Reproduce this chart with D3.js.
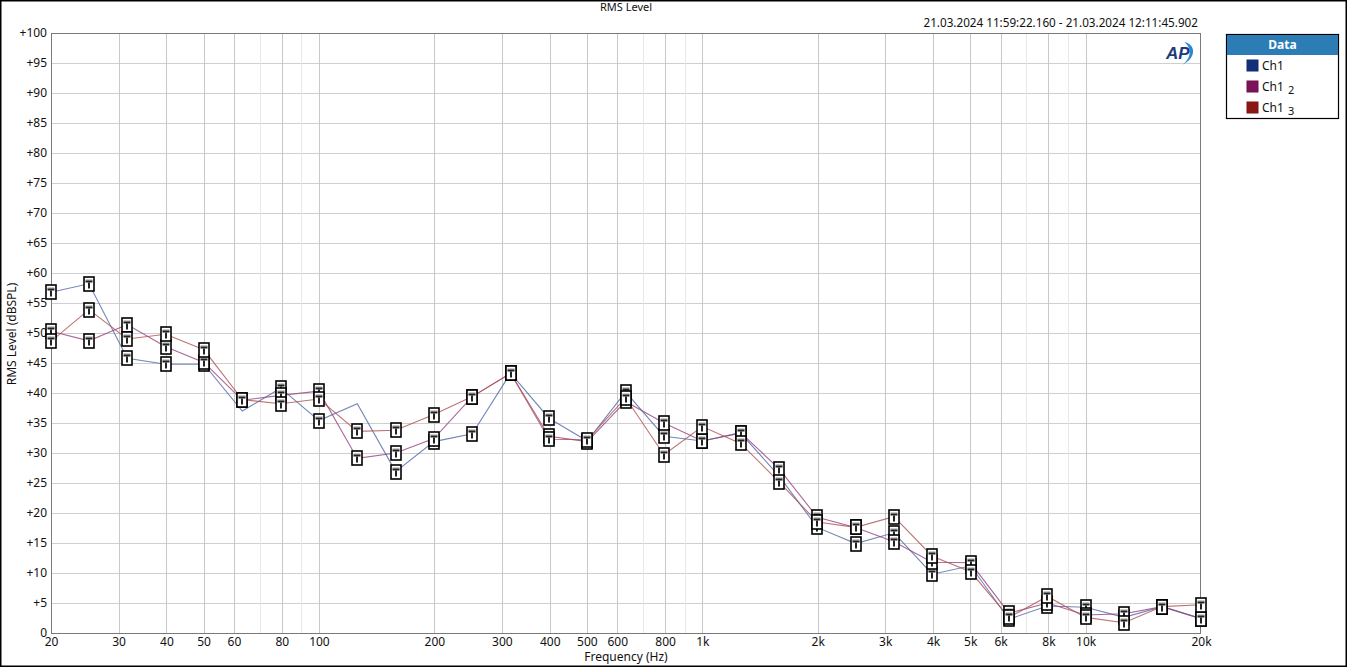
<!DOCTYPE html>
<html>
<head>
<meta charset="utf-8">
<script src="https://cdn.jsdelivr.net/npm/d3@7"></script>
<style>
  html, body { margin: 0; padding: 0; background: #fff; }
  svg { display: block; font-family: "Segoe UI", "Noto Sans", "Open Sans", sans-serif; }
</style>
</head>
<body>
<svg id="chart" width="1347" height="667"></svg>
<script>
// ---------------- data ----------------
const freqs = [20,25.12,31.62,39.81,50.12,63.10,79.43,100,125.9,158.5,199.5,251.2,316.2,398.1,501.2,631.0,794.3,1000,1259,1585,1995,2512,3162,3981,5012,6310,7943,10000,12589,15849,20000];
const ch1   = [56.8,58.2,45.8,44.8,44.8,37.0,40.8,35.4,38.2,26.9,31.9,33.2,43.3,35.8,32.0,40.2,32.8,32.0,33.3,26.2,17.6,14.9,16.7,9.8,11.2,2.3,4.5,4.3,2.6,4.4,2.4];
const ch1_2 = [50.3,48.7,51.4,47.7,45.1,38.8,39.6,40.3,29.1,30.0,32.4,39.4,43.3,32.8,31.9,38.6,35.0,32.0,33.4,27.4,19.3,17.6,15.2,11.8,11.7,3.3,5.0,3.0,3.2,4.4,2.4];
const ch1_3 = [48.6,53.9,49.0,49.8,47.2,38.9,38.2,39.0,33.6,33.8,36.4,39.4,43.3,32.3,32.2,39.2,29.7,34.4,31.6,25.2,18.5,17.6,19.4,12.8,10.2,2.6,6.1,2.6,1.7,4.4,4.7];
const ch1UnmarkedIdx = [5,8,19];   // Ch1 points drawn without a marker
const seriesNames = ["Ch1","Ch1","Ch1"];
const seriesSubs  = ["","2","3"];
const xMajorTicks = [20,30,40,50,60,80,100,200,300,400,500,600,800,1000,2000,3000,4000,5000,6000,8000,10000,20000];
const xMajorLabels = ["20","30","40","50","60","80","100","200","300","400","500","600","800","1k","2k","3k","4k","5k","6k","8k","10k","20k"];
const xMinorTicks = [70,90,700,900,7000,9000];
const yTicks = d3.range(0,101,5);
const titleText = "RMS Level";
const timeText = "21.03.2024 11:59:22.160 - 21.03.2024 12:11:45.902";
const xTitle = "Frequency (Hz)";
const yTitle = "RMS Level (dBSPL)";

// ---------------- layout ----------------
const svg = d3.select("#chart");
const W = 1347, H = 667;
const L = 51, R = 1201, T = 33, B = 633;
const x = d3.scaleLog().domain([20,20000]).range([L,R]);
const y = d3.scaleLinear().domain([0,100]).range([B,T]);

const lineColors = ["#4f68a4","#94407e","#ae5050"];
const legendColors = ["#12307a","#7c1258","#8a1616"];

// outer frame
svg.append("rect").attr("x",0.75).attr("y",0.75).attr("width",W-1.5).attr("height",H-1.5)
  .attr("fill","#fff").attr("stroke","#000").attr("stroke-width",1.5);

// grid
const g = svg.append("g");
g.selectAll(".ygrid").data(yTicks.filter(v=>v>0 && v<100)).enter().append("line")
  .attr("x1",L).attr("x2",R).attr("y1",d=>Math.round(y(d))+0.5).attr("y2",d=>Math.round(y(d))+0.5)
  .attr("stroke","#cfcfcf").attr("stroke-width",1);
g.selectAll(".xminor").data(xMinorTicks).enter().append("line")
  .attr("y1",T).attr("y2",B).attr("x1",d=>Math.round(x(d))+0.5).attr("x2",d=>Math.round(x(d))+0.5)
  .attr("stroke","#e8e8e8").attr("stroke-width",1);
g.selectAll(".xmajor").data(xMajorTicks.filter(v=>v>20 && v<20000)).enter().append("line")
  .attr("y1",T).attr("y2",B).attr("x1",d=>Math.round(x(d))+0.5).attr("x2",d=>Math.round(x(d))+0.5)
  .attr("stroke","#c8c8c8").attr("stroke-width",1);

// plot border
svg.append("rect").attr("x",L+0.5).attr("y",T+0.5).attr("width",R-L-1).attr("height",B-T)
  .attr("fill","none").attr("stroke","#7a7a7a").attr("stroke-width",1);

// axes (labels)
const yAxis = d3.axisLeft(y).tickValues(yTicks).tickSize(0).tickPadding(4)
  .tickFormat(d => d===0 ? "0" : "+"+d);
const ya = svg.append("g").attr("transform",`translate(${L},0)`).call(yAxis);
ya.select(".domain").remove();
ya.selectAll("text").attr("font-size","12px").attr("fill","#111").attr("font-family","\"Segoe UI\", \"Noto Sans\", sans-serif");

const xAxis = d3.axisBottom(x).tickValues(xMajorTicks).tickSize(0).tickPadding(4)
  .tickFormat((d,i) => xMajorLabels[i]);
const xa = svg.append("g").attr("transform",`translate(0,${B})`).call(xAxis);
xa.select(".domain").remove();
xa.selectAll("text").attr("font-size","12px").attr("fill","#111").attr("font-family","\"Segoe UI\", \"Noto Sans\", sans-serif");

// titles
svg.append("text").attr("x",626).attr("y",11).attr("text-anchor","middle")
  .attr("font-size","11px").attr("fill","#111").text(titleText);
svg.append("text").attr("x",1198).attr("y",27).attr("text-anchor","end")
  .attr("font-size","11.7px").attr("fill","#111").text(timeText);
svg.append("text").attr("x",626).attr("y",661).attr("text-anchor","middle")
  .attr("font-size","12px").attr("fill","#111").text(xTitle);
svg.append("text").attr("transform","translate(16,334) rotate(-90)").attr("text-anchor","middle")
  .attr("font-size","12px").attr("fill","#111").text(yTitle);

// AP logo
const logo = svg.append("g").attr("transform","translate(1166,44)");
logo.append("text").attr("x",0).attr("y",15).attr("font-size","17px").attr("font-weight","bold")
  .attr("font-style","italic").attr("fill","#1b3c78").attr("font-family","\"Liberation Sans\", Arial, sans-serif").text("AP");
logo.append("path").attr("d","M18,-2 C30,0 31,14 16,21 C26,14 26,3 18,-2 Z").attr("fill","#2b86d6");

// lines + markers
const series = [ch1, ch1_2, ch1_3];
const line = d3.line().x(d=>x(d.f)).y(d=>y(d.v));
const plot = svg.append("g");
series.forEach((vals,si) => {
  const pts = freqs.map((f,i)=>({f, v: vals[i]}));
  plot.append("path").datum(pts).attr("d",line).attr("fill","none")
    .attr("stroke",lineColors[si]).attr("stroke-width",1.1).attr("stroke-opacity",0.8);
});
const mk = svg.append("g");
series.forEach((vals,si) => {
  const pts = freqs.map((f,i)=>({f, v: vals[i], i}))
    .filter(d => !(si===0 && ch1UnmarkedIdx.includes(d.i)));
  const m = mk.selectAll(null).data(pts).enter().append("g")
    .attr("transform", d=>`translate(${Math.round(x(d.f))},${Math.round(y(d.v))})`);
  m.append("rect").attr("x",-5).attr("y",-7).attr("width",10).attr("height",14)
    .attr("fill","#fff").attr("stroke","#000").attr("stroke-width",1.6);
  m.append("rect").attr("x",-3.5).attr("y",-4.5).attr("width",7).attr("height",1).attr("fill","#999");
  m.append("rect").attr("x",-3.5).attr("y",-3.5).attr("width",7).attr("height",2).attr("fill","#222");
  m.append("rect").attr("x",-1).attr("y",-1.5).attr("width",2).attr("height",6).attr("fill","#222");
});

// legend
const lg = svg.append("g").attr("transform","translate(1226,34)");
lg.append("rect").attr("x",0.5).attr("y",0.5).attr("width",112).attr("height",84)
  .attr("fill","#fff").attr("stroke","#000").attr("stroke-width",1.2);
lg.append("rect").attr("x",1).attr("y",1).attr("width",111).attr("height",20).attr("fill","#2c7db6");
lg.append("text").attr("x",56.5).attr("y",15).attr("text-anchor","middle").attr("fill","#fff")
  .attr("font-size","12px").attr("font-weight","bold").text("Data");
seriesNames.forEach((n,i) => {
  const yy = 32 + i*21;
  lg.append("rect").attr("x",21).attr("y",yy-6).attr("width",11).attr("height",11)
    .attr("fill",legendColors[i]).attr("stroke",d3.color(legendColors[i]).darker(0.3)).attr("stroke-width",1);
  const t = lg.append("text").attr("x",36).attr("y",yy+4).attr("font-size","12px").attr("fill","#111").text(n);
  if (seriesSubs[i]) t.append("tspan").attr("dx",4).attr("dy",3).attr("font-size","11px").text(seriesSubs[i]);
});
</script>
</body>
</html>
